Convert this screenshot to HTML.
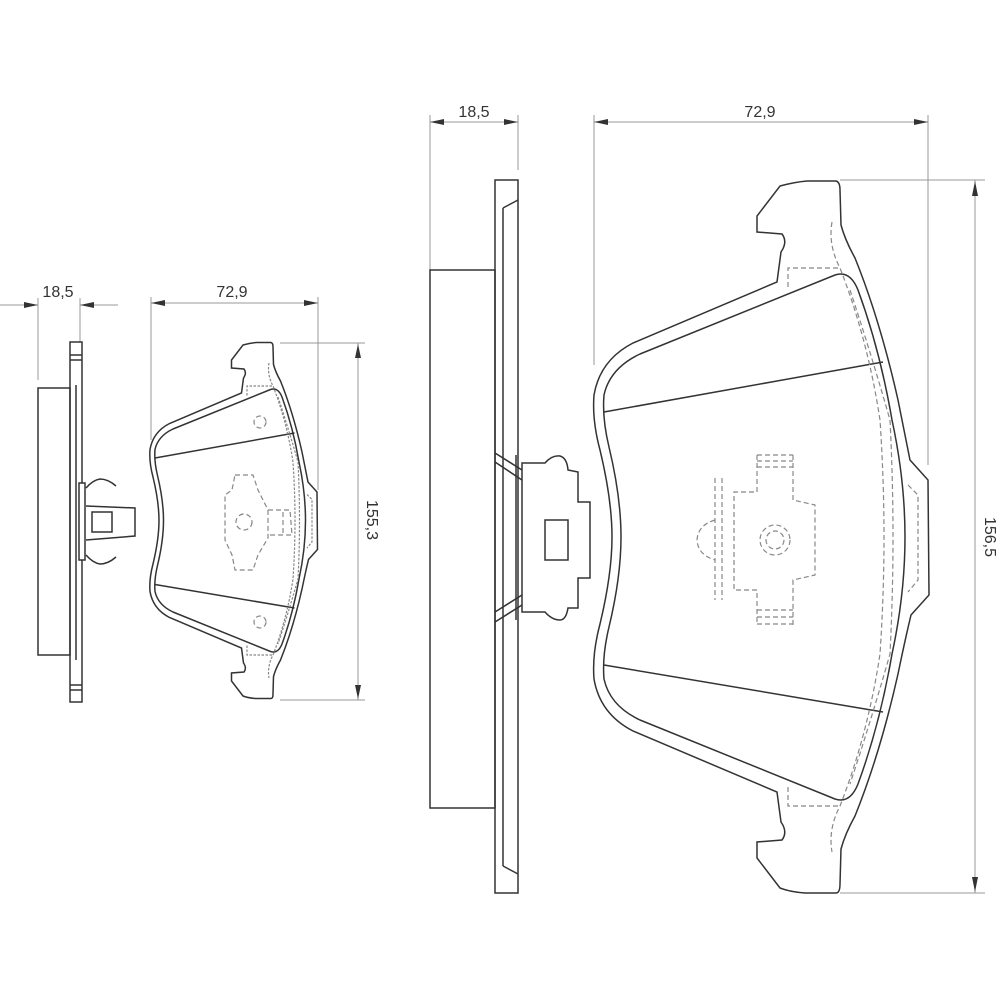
<!DOCTYPE html>
<html><head><meta charset="utf-8"><style>
html,body{margin:0;padding:0;background:#fff;}
svg{display:block}
text{font-family:"Liberation Sans",sans-serif;font-size:16px;fill:#333}
</style></head><body>
<svg width="1000" height="1000" viewBox="0 0 1000 1000" xmlns="http://www.w3.org/2000/svg">
<defs>
<path id="plate" d="M 807 181 L 836 181 Q 840 182 840 190 L 841 225 Q 845 240 855 258 Q 880 320 898 400 Q 905 435 910 460 L 928 480 L 929 595 L 911 615 Q 905 640 898 674 Q 880 754 855 816 Q 845 834 841 849 L 840 884 Q 840 893 836 893 L 805 893 Q 790 892 780 888 L 757 858 L 757 842 L 782 840 Q 788 832 781 822 L 777 792 L 633 731 Q 600 714 594 679 Q 592 654 600 624 Q 612 574 612 537 Q 612 500 600 450 Q 592 420 594 395 Q 600 360 633 343 L 777 282 L 781 252 Q 788 242 782 234 L 757 232 L 757 216 L 780 186 Q 795 182 807 181 Z"/>
<path id="fric" d="M 640 354 L 835 275 Q 850 270 858 290 Q 880 350 892 420 Q 905 480 905 537 Q 905 594 892 654 Q 880 724 858 784 Q 850 804 835 799 L 640 720 Q 610 706 604 679 Q 602 656 609 627 Q 621 577 621 537 Q 621 497 609 447 Q 602 418 604 395 Q 610 368 640 354 Z"/>
<g id="padlines">
<line x1="604" y1="412" x2="883" y2="362"/>
<line x1="604" y1="665" x2="883" y2="712"/>
</g>
<g id="paddash">
<path d="M 832 222 Q 828 245 840 268 Q 868 340 880 420 Q 884 480 884 537 Q 884 594 880 654 Q 868 734 840 806 Q 828 829 832 852"/>
<path d="M 850 290 Q 870 350 890 420 Q 893 480 893 537 Q 893 594 890 654 Q 870 724 850 784"/>
<path d="M 788 287 L 788 268 L 840 268"/>
<path d="M 788 787 L 788 806 L 840 806"/>
<path d="M 908 485 L 918 495 L 918 580 L 908 592"/>
</g>
</defs>

<g fill="none" stroke="#999" stroke-width="1">
<line x1="430" y1="115" x2="430" y2="270"/>
<line x1="518" y1="115" x2="518" y2="170"/>
<line x1="430" y1="122" x2="518" y2="122"/>
<line x1="594" y1="115" x2="594" y2="365"/>
<line x1="928" y1="115" x2="928" y2="465"/>
<line x1="594" y1="122" x2="928" y2="122"/>
<line x1="840" y1="180" x2="985" y2="180"/>
<line x1="840" y1="893" x2="985" y2="893"/>
<line x1="975" y1="180" x2="975" y2="893"/>
<line x1="38" y1="298" x2="38" y2="380"/>
<line x1="80" y1="298" x2="80" y2="342"/>
<line x1="0" y1="305" x2="38" y2="305"/>
<line x1="80" y1="305" x2="118" y2="305"/>
<line x1="151" y1="297" x2="151" y2="440"/>
<line x1="318" y1="297" x2="318" y2="490"/>
<line x1="151" y1="303" x2="318" y2="303"/>
<line x1="280" y1="343" x2="365" y2="343"/>
<line x1="280" y1="700" x2="365" y2="700"/>
<line x1="358" y1="343" x2="358" y2="700"/>
</g>
<g fill="#333">
<polygon points="430,122 444,119 444,125"/>
<polygon points="518,122 504,119 504,125"/>
<polygon points="594,122 608,119 608,125"/>
<polygon points="928,122 914,119 914,125"/>
<polygon points="975,181 972,196 978,196"/>
<polygon points="975,892 972,877 978,877"/>
<polygon points="38,305 24,302 24,308"/>
<polygon points="80,305 94,302 94,308"/>
<polygon points="151,303 165,300 165,306"/>
<polygon points="318,303 304,300 304,306"/>
<polygon points="358,344 355,358 361,358"/>
<polygon points="358,699 355,685 361,685"/>
</g>
<text x="474" y="117" text-anchor="middle">18,5</text>
<text x="760" y="117" text-anchor="middle">72,9</text>
<text x="0" y="0" text-anchor="middle" transform="translate(985 537) rotate(90)">156,5</text>
<text x="58" y="297" text-anchor="middle">18,5</text>
<text x="232" y="297" text-anchor="middle">72,9</text>
<text x="0" y="0" text-anchor="middle" transform="translate(367 520) rotate(90)">155,3</text>

<g fill="none" stroke="#333" stroke-width="1.5">
<rect x="430" y="270" width="65" height="538"/>
<rect x="495" y="180" width="23" height="713"/>
<line x1="503" y1="208" x2="503" y2="866"/>
<line x1="503" y1="208" x2="518" y2="200"/>
<line x1="503" y1="866" x2="518" y2="874"/>
<line x1="516" y1="455" x2="516" y2="620"/>
<line x1="495" y1="453" x2="522" y2="470"/>
<line x1="495" y1="462" x2="522" y2="480"/>
<line x1="495" y1="622" x2="522" y2="605"/>
<line x1="495" y1="612" x2="522" y2="595"/>
<path d="M 522 463 L 545 463 Q 552 455 560 456 Q 567 458 568 470 L 578 472 L 578 502 L 590 502 L 590 578 L 578 578 L 578 608 L 568 608 Q 566 620 560 620 Q 552 620 545 612 L 522 612 Z"/>
<rect x="545" y="520" width="23" height="40"/>
<use href="#plate"/>
<use href="#fric"/>
<use href="#padlines"/>
<rect x="38" y="388" width="32" height="267"/>
<rect x="70" y="342" width="12" height="360"/>
<line x1="76" y1="385" x2="76" y2="660"/>
<line x1="70" y1="355" x2="82" y2="355"/>
<line x1="70" y1="360" x2="82" y2="360"/>
<line x1="70" y1="685" x2="82" y2="685"/>
<line x1="70" y1="690" x2="82" y2="690"/>
<rect x="79" y="483" width="6" height="77" fill="#fff"/>
<path d="M 86 506 L 135 508 L 135 536 L 86 540"/>
<path d="M 92 512 L 112 512 L 112 532 L 92 532 Z"/>
<path d="M 86 488 Q 93 480 100 479 Q 108 479 116 486"/>
<path d="M 86 555 Q 93 563 100 564 Q 108 564 116 557"/>
<g transform="translate(-147 252) scale(0.5)">
<use href="#plate" stroke-width="3"/>
<use href="#fric" stroke-width="3"/>
<use href="#padlines" stroke-width="3"/>
</g>
</g>

<g fill="none" stroke="#888" stroke-width="1.2" stroke-dasharray="5 3">
<use href="#paddash"/>
<path d="M 757 455 L 793 455 M 757 461 L 793 461 M 757 467 L 793 467"/>
<path d="M 757 455 L 757 492 L 734 492 L 734 590 L 757 590 L 757 625 M 793 455 L 793 500 L 815 505 L 815 575 L 793 580 L 793 625"/>
<path d="M 757 610 L 793 610 M 757 617 L 793 617 M 757 624 L 793 624"/>
<path d="M 715 478 L 715 600 M 722 478 L 722 600"/>
<path d="M 715 520 Q 698 525 697 540 Q 698 555 715 560"/>
<circle cx="775" cy="540" r="15"/>
<circle cx="775" cy="540" r="9"/>
<g transform="translate(-147 252) scale(0.5)" stroke-width="2.4">
<use href="#paddash"/>
</g>
<circle cx="260" cy="422" r="6"/>
<circle cx="260" cy="622" r="6"/>
<path d="M 235 475 L 253 475 L 258 490 L 268 510 L 268 538 L 258 555 L 253 570 L 235 570 L 232 555 L 225 540 L 225 495 L 232 490 Z"/>
<circle cx="244" cy="522" r="8"/>
<path d="M 268 510 L 290 510 L 292 535 L 268 535"/>
<path d="M 283 512 L 283 533"/>
</g>
</svg>
</body></html>
